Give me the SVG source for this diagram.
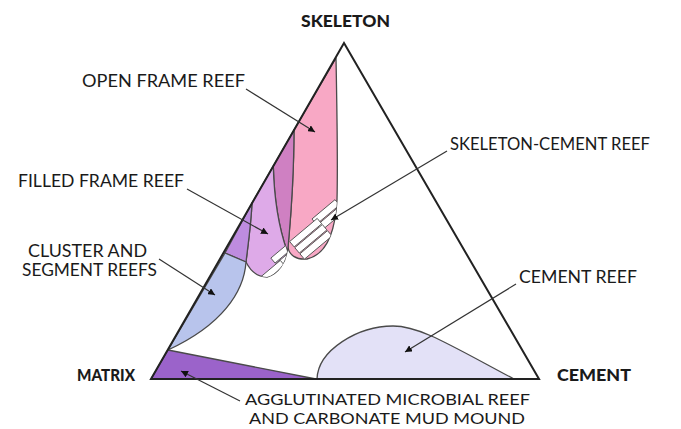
<svg xmlns="http://www.w3.org/2000/svg" width="681" height="429" viewBox="0 0 681 429">
<style>
.reg{stroke:#4a4a4a;stroke-width:1.3;stroke-linejoin:round}
.lbl{font-family:Lato,"Liberation Sans",Arial,sans-serif;font-size:17.5px;fill:#1a1a1a}
.bold{font-weight:900;font-size:17.5px}
.small{font-size:16px}
.conn{stroke:#333;stroke-width:1.2;fill:none;marker-end:url(#ah)}
.bar{fill:#fff;stroke:#555;stroke-width:0.9}
</style>
<defs>
<marker id="ah" viewBox="0 0 10 10" refX="10" refY="5" markerWidth="7" markerHeight="7" markerUnits="userSpaceOnUse" orient="auto">
<path d="M0,0 L10,5 L0,10 Z" fill="#111"/>
</marker>
<clipPath id="cpPink"><path d="M336,58 C337,110 338,160 337,200 C335,235 325,255 307,259 C296,260 289,255 288,247 C291,215 294,170 294,130 Z"/></clipPath>
<clipPath id="cpLight"><path d="M273.3,166 C274,195 278,225 287,251 C286,262 278,274 267,277 C257,277 250,270 246,262 C248,245 251,225 252,203 Z"/></clipPath>
</defs>
<rect width="681" height="429" fill="#fff"/>
<g id="open-frame-reef">
<path class="reg" fill="#F8A8C5" d="M336,58 C337,110 338,160 337,200 C335,235 325,255 307,259 C296,260 289,255 288,247 C291,215 294,170 294,130 Z"/>
</g>
<g id="dark-frame">
<path class="reg" fill="#CF80C2" d="M294,130 C294,170 291,215 288,248 L287,251 C278,225 274,195 273.3,166 Z"/>
</g>
<g id="filled-frame-reef">
<path class="reg" fill="#DEAAE8" d="M273.3,166 C274,195 278,225 287,251 C286,262 278,274 267,277 C257,277 250,270 246,262 C248,245 251,225 252,203 Z"/>
</g>
<g id="filled-frame-edge">
<path class="reg" fill="#BE8CDF" d="M252,203 C251,225 248,245 246,262 L225,253 Z"/>
</g>
<g id="cluster-segment-reefs">
<path class="reg" fill="#B8C4EC" d="M225,253 L246,262 C244,292 222,325 168,350 Z"/>
</g>
<g id="agglutinated">
<path class="reg" fill="#9B63CA" d="M151,379 L168,350 L316,379 Z"/>
</g>
<g id="cement-reef">
<path class="reg" fill="#E3E1F7" d="M317,379 C318,350 358,326 393,326 C420,326 450,345 514,379 Z"/>
</g>
<g id="skeleton-cement-reef">
<g clip-path="url(#cpPink)">
<g transform="translate(326,217) rotate(-40)">
<rect class="bar" x="-12" y="-7.5" width="30" height="7"/>
<rect class="bar" x="-12" y="0.5" width="30" height="7"/>
</g>
<g transform="translate(307,242) rotate(-40)">
<rect class="bar" x="-13" y="-11.5" width="36" height="7"/>
<rect class="bar" x="-13" y="-3.5" width="36" height="7"/>
<rect class="bar" x="-13" y="4.5" width="36" height="7"/>
</g>
</g>
<g clip-path="url(#cpLight)">
<g transform="translate(283,257) rotate(-40)">
<rect class="bar" x="-10" y="-7" width="26" height="6.5"/>
<rect class="bar" x="-10" y="0.5" width="26" height="6.5"/>
</g>
<g transform="translate(270,273) rotate(-40)">
<rect class="bar" x="-10" y="-3" width="26" height="6.5"/>
</g>
</g>
</g>
<g id="triangle">
<path d="M344,43 L151,379 L539,379 Z" fill="none" stroke="#222" stroke-width="2" stroke-linejoin="miter"/>
</g>
<g id="connectors">
<line class="conn" x1="246" y1="89" x2="315" y2="132"/>
<line class="conn" x1="447" y1="151" x2="331" y2="220"/>
<line class="conn" x1="187" y1="189" x2="268" y2="234"/>
<line class="conn" x1="159" y1="259" x2="215" y2="295"/>
<line class="conn" x1="516" y1="284" x2="405" y2="352"/>
<line class="conn" x1="240" y1="401" x2="181" y2="371"/>
</g>
<g id="labels">
<text class="lbl bold" x="301" y="27" textLength="89" lengthAdjust="spacingAndGlyphs">SKELETON</text>
<text class="lbl bold" x="77" y="381" textLength="58" lengthAdjust="spacingAndGlyphs">MATRIX</text>
<text class="lbl bold" x="557" y="381" textLength="74" lengthAdjust="spacingAndGlyphs">CEMENT</text>
<text class="lbl" x="82" y="87" textLength="163" lengthAdjust="spacingAndGlyphs">OPEN FRAME REEF</text>
<text class="lbl" x="450" y="150" textLength="200" lengthAdjust="spacingAndGlyphs">SKELETON-CEMENT REEF</text>
<text class="lbl" x="18" y="187" textLength="166" lengthAdjust="spacingAndGlyphs">FILLED FRAME REEF</text>
<text class="lbl" x="28" y="257" textLength="119" lengthAdjust="spacingAndGlyphs">CLUSTER AND</text>
<text class="lbl" x="22" y="276" textLength="135" lengthAdjust="spacingAndGlyphs">SEGMENT REEFS</text>
<text class="lbl" x="519" y="283" textLength="118" lengthAdjust="spacingAndGlyphs">CEMENT REEF</text>
<text class="lbl small" x="245" y="405" textLength="285" lengthAdjust="spacingAndGlyphs">AGGLUTINATED MICROBIAL REEF</text>
<text class="lbl small" x="249" y="424" textLength="276" lengthAdjust="spacingAndGlyphs">AND CARBONATE MUD MOUND</text>
</g>
</svg>
